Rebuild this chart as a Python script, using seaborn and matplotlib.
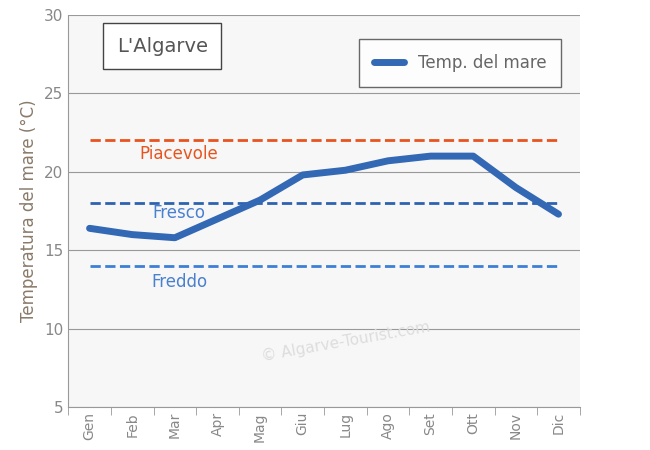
import matplotlib
matplotlib.use("Agg")
import matplotlib.pyplot as plt
import seaborn as sns
import pandas as pd

months = ["Gen","Feb","Mar","Apr","Mag","Giu","Lug","Ago","Set","Ott","Nov","Dic"]
sea_temp = [16.4, 16.0, 15.8, 17.0, 18.2, 19.8, 20.1, 20.7, 21.0, 21.0, 19.0, 17.3]
ref_levels = [22, 18, 14]
ref_labels = ["Piacevole", "Fresco", "Freddo"]
ref_colors = ["#e8541e", "#2e62b0", "#3d7fd6"]
text_colors = ["#e8541e", "#4a80d0", "#4a80d0"]

df = pd.DataFrame({"mese": range(12), "temp": sea_temp})

fig = plt.figure(figsize=(6.5, 4.5), dpi=100)
ax = fig.add_axes([0.105, 0.095, 0.787, 0.872])
ax.set_facecolor("#f7f7f7")
sns.lineplot(data=df, x="mese", y="temp", ax=ax, color="#3268b4", lw=5,
             solid_capstyle="round", label="Temp. del mare", zorder=5)
for lv, lb, c, tc, dy in zip(ref_levels, ref_labels, ref_colors, text_colors, [-0.85, -0.65, -1.0]):
    ax.plot([0, 11], [lv, lv], ls="--", color=c, lw=2, zorder=3)
    ax.text(2.1, lv + dy, lb, color=tc, fontsize=12, ha="center", va="center")
ax.set_xlim(-0.5, 11.5)
ax.set_ylim(5, 30)
ax.set_yticks(range(5, 31, 5))
ax.yaxis.grid(True, color="#999999", lw=0.8)
ax.set_xticks(range(12))
ax.set_xticklabels(months, rotation=90, color="#888888", fontsize=10)
ax.set_xticks([i + 0.5 for i in range(-1, 12)], minor=True)
ax.tick_params(axis="x", which="major", length=0)
ax.tick_params(axis="x", which="minor", length=6, color="#999999")
ax.tick_params(axis="y", colors="#888888", labelsize=11, length=0)
ax.set_xlabel("")
ax.set_ylabel("Temperatura del mare (°C)", color="#8a7a6a", fontsize=12)
for s in ["top", "right"]:
    ax.spines[s].set_visible(False)
for s in ["left", "bottom"]:
    ax.spines[s].set_color("#999999")
leg = ax.legend(loc="upper right", bbox_to_anchor=(0.98, 0.96), fontsize=12, frameon=True,
                fancybox=False, handlelength=1.8, borderpad=0.9, labelcolor="#666666")
leg.get_frame().set_edgecolor("#444444")
ax.text(0.095, 0.92, "L'Algarve", transform=ax.transAxes, fontsize=14, color="#555555",
        va="center", ha="left",
        bbox=dict(boxstyle="square,pad=0.7", fc="white", ec="#444444"))
ax.text(6, 9.2, "© Algarve-Tourist.com", color="#dddddd", fontsize=11, rotation=10,
        ha="center", va="center")
fig.savefig("out.png")
